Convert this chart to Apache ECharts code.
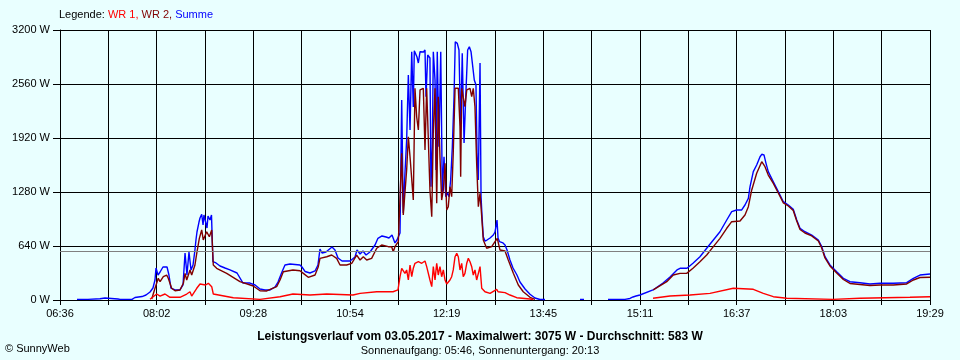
<!DOCTYPE html>
<html><head><meta charset="utf-8">
<script src="https://cdn.jsdelivr.net/npm/echarts@6/dist/echarts.min.js"></script>
<style>html,body{margin:0;padding:0;background:#E9FFFF}#c{width:960px;height:360px}</style>
</head><body><div id="c"></div>
<script>
// x tick labels (time of day)
const xTickLabels = ['06:36','08:02','09:28','10:54','12:19','13:45','15:11','16:37','18:03','19:29'];
// y axis
const yMin = 0, yMax = 3200, yStep = 640, yUnit = 'W';
const average = 583;
const legendLabel = 'Legende:';
const seriesNames = ['WR 1', 'WR 2', 'Summe'];
const titleText = 'Leistungsverlauf vom 03.05.2017 - Maximalwert: 3075 W - Durchschnitt: 583 W';
const subText = 'Sonnenaufgang: 05:46, Sonnenuntergang: 20:13';
const creditText = '\u00A9 SunnyWeb';

// [minute of day, watts]; null = no data
const wr1 = [[476.0,8],[481.9,71],[484.9,47],[489.3,71],[493.7,32],[502.6,32],[508.6,71],[511.5,98],[513.0,47],[517.5,139],[520.4,190],[525.3,178],[527.8,198],[530.8,158],[532.2,71],[550.0,27],[573.7,8],[591.5,39],[603.0,71],[618.1,59],[633.0,71],[656.3,59],[662.6,79],[677.4,98],[691.9,98],[696.3,119],[698.1,276],[699.6,376],[702.5,316],[704.0,356],[705.5,237],[707.0,415],[708.5,276],[709.9,376],[711.4,435],[714.4,454],[717.4,435],[720.3,462],[721.8,395],[723.2,415],[724.7,237],[726.3,158],[727.7,395],[729.2,237],[730.7,435],[732.1,296],[733.6,395],[735.1,276],[736.6,356],[738.1,237],[739.6,190],[741.0,198],[742.5,237],[744.0,276],[745.4,356],[747.0,513],[748.5,553],[749.9,513],[751.4,356],[752.9,435],[754.3,276],[755.8,316],[757.4,435],[758.8,494],[760.3,454],[761.8,395],[763.2,296],[764.7,356],[766.2,237],[767.7,316],[769.2,395],[770.7,139],[773.6,98],[778.1,79],[784.0,127],[785.2,98],[791.4,87],[795.8,59],[801.8,27],[813.6,12],[816.3,6],[817,null],[922.9,20],[938.0,47],[955.8,59],[973.5,79],[994.2,139],[1012.0,127],[1020.9,79],[1029.8,39],[1041.7,20],[1082.8,8],[1106.8,20],[1151.2,32],[1169.0,39]];

const wr2 = [[477.5,12],[480.4,139],[483.3,257],[484.9,217],[487.8,276],[490.8,296],[492.2,257],[495.2,139],[498.2,110],[502.6,119],[505.6,198],[507.1,316],[508.6,237],[511.5,356],[513.0,296],[515.9,415],[517.5,553],[519.8,731],[521.9,830],[523.3,711],[526.3,809],[528.7,750],[530.8,830],[532.2,415],[535.2,376],[544.1,316],[555.9,217],[567.7,166],[573.7,110],[579.7,107],[588.5,158],[591.5,237],[594.4,335],[595.9,356],[603.0,356],[609.2,347],[612.2,316],[616.6,269],[622.6,296],[625.5,395],[627.0,494],[633.0,513],[637.4,533],[641.8,494],[644.8,415],[650.7,415],[655.2,435],[659.6,533],[662.6,474],[665.5,513],[668.5,474],[672.9,494],[677.4,613],[681.8,652],[687.7,632],[690.7,632],[692.1,572],[693.6,632],[696.6,691],[698.1,711],[699.6,1739],[701.0,1007],[704.0,1541],[705.5,1935],[707.0,1698],[708.5,1698],[709.9,1185],[711.4,2509],[712.9,2172],[714.4,2015],[715.9,2489],[717.4,2509],[718.8,2509],[720.3,1778],[721.8,2509],[723.2,2509],[724.7,1304],[726.3,987],[727.7,2015],[729.2,2509],[730.7,1146],[732.1,2410],[733.6,1698],[735.1,1185],[736.6,1304],[738.1,1620],[739.6,1067],[741.0,1106],[742.5,1343],[744.0,1224],[745.4,1739],[747.0,2509],[748.5,2509],[749.9,2509],[751.4,2054],[752.0,1461],[752.9,2509],[754.3,2509],[755.8,2291],[757.4,2489],[758.8,2489],[760.3,2509],[761.8,2410],[763.2,2509],[764.7,2291],[766.2,1620],[767.7,1106],[769.2,1265],[770.7,987],[772.1,711],[775.1,613],[779.6,632],[782.5,691],[784.5,731],[786.9,593],[791.4,581],[794.3,474],[798.8,316],[803.2,178],[807.6,98],[813.6,32],[818.0,8],[819,null],[923.1,119],[935.1,217],[940.9,296],[946.9,316],[952.8,316],[958.4,376],[964.6,454],[970.6,533],[976.5,632],[982.4,731],[988.4,850],[992.8,928],[1000.2,936],[1004.6,1007],[1007.6,1106],[1010.6,1304],[1015.0,1502],[1019.5,1639],[1022.4,1580],[1025.3,1481],[1029.8,1381],[1034.2,1268],[1038.7,1150],[1043.1,1114],[1047.5,1061],[1050.6,936],[1053.5,836],[1057.9,794],[1063.9,759],[1069.8,699],[1072.8,616],[1075.7,498],[1080.1,403],[1086.1,320],[1092.0,243],[1097.9,196],[1106.8,184],[1115.7,172],[1124.6,178],[1136.4,178],[1148.3,190],[1154.2,237],[1160.1,267],[1169.0,269]];

const summe = [[411.1,8],[420.9,8],[421.8,15],[431.5,15],[432.4,24],[436.0,24],[436.9,12],[447.5,12],[449.3,8],[460.0,8],[462.6,30],[468.9,41],[472.4,59],[476.0,95],[478.6,142],[480.4,237],[481.3,379],[483.1,296],[484.9,332],[487.5,391],[491.1,391],[492.8,296],[494.6,142],[498.2,119],[502.6,119],[505.3,178],[507.1,557],[508.8,296],[510.6,569],[512.4,356],[514.2,415],[515.9,593],[516.8,711],[517.7,806],[519.5,924],[520.4,972],[521.9,1016],[523.1,889],[523.9,1007],[525.3,1016],[526.6,853],[527.5,996],[529.3,948],[530.6,1007],[531.9,454],[534.6,439],[538.2,403],[542.6,379],[547.0,356],[553.3,320],[558.6,201],[564.8,201],[569.3,178],[573.7,130],[578.1,119],[582.6,119],[587.0,154],[589.7,213],[593.2,332],[595.9,415],[600.4,427],[609.2,415],[611.0,391],[613.7,338],[618.1,320],[622.6,344],[625.2,415],[627.0,604],[628.8,557],[632.3,569],[637.7,628],[640.3,593],[643.0,498],[646.6,462],[653.7,462],[658.1,510],[659.9,593],[662.6,545],[665.2,581],[667.9,533],[671.4,569],[675.9,652],[678.5,731],[682.1,759],[685.7,747],[688.3,735],[691.0,770],[693.6,676],[695.4,711],[698.1,794],[699.6,2370],[701.0,1031],[702.5,1505],[704.0,1896],[705.5,2667],[707.0,2015],[708.5,2943],[709.9,2287],[710.8,2955],[712.0,2963],[713.2,2880],[714.4,2809],[715.9,2943],[717.4,2963],[719.0,2939],[720.3,2963],[721.2,2410],[722.7,2904],[724.7,2868],[725.6,1343],[726.8,1817],[727.7,2943],[729.2,2607],[730.1,1541],[731.2,2943],[732.7,1817],[734.3,2943],[735.7,1268],[737.2,1698],[738.7,1224],[740.1,1268],[741.6,1224],[743.1,1422],[744.6,1817],[746.1,2410],[747.2,3061],[749.0,3042],[750.5,2963],[752.0,2015],[753.4,2924],[755.0,1861],[756.5,2410],[758.2,2963],[759.7,3002],[761.2,2943],[762.7,2924],[764.1,2607],[765.6,2548],[766.5,1742],[767.7,1422],[769.2,2809],[770.1,1224],[771.0,987],[772.1,750],[773.6,699],[775.4,711],[778.1,735],[781.0,770],[782.5,806],[784.3,948],[785.2,735],[786.5,691],[789.6,676],[791.4,652],[793.2,593],[795.8,474],[798.5,379],[802.0,296],[804.7,213],[809.2,130],[813.6,68],[818.0,24],[822.5,6],[826.9,6],[827.5,null],[858.0,8],[861.6,8],[862,null],[882.9,8],[898.0,8],[902.4,18],[905.1,36],[907.8,47],[911.3,59],[922.9,119],[931.8,201],[938.0,273],[944.2,356],[946.9,376],[953.1,376],[958.4,435],[964.6,513],[970.6,613],[976.5,711],[982.4,809],[988.4,948],[992.8,1047],[997.2,1067],[1001.7,1067],[1004.6,1126],[1007.6,1205],[1009.1,1343],[1012.0,1521],[1015.0,1600],[1018.0,1698],[1019.5,1727],[1021.5,1719],[1023.3,1620],[1025.3,1521],[1029.8,1402],[1034.2,1284],[1038.7,1165],[1043.1,1126],[1047.5,1075],[1050.6,948],[1053.5,850],[1057.9,809],[1063.9,770],[1069.8,711],[1072.8,632],[1075.7,513],[1080.1,415],[1086.1,335],[1092.0,257],[1097.9,217],[1106.8,205],[1115.7,190],[1124.6,198],[1136.4,198],[1148.3,205],[1154.2,257],[1160.1,296],[1169.0,308]];

const FONT = '"Liberation Sans", Arial, sans-serif';
const toMin = s => { const p = s.split(':').map(Number); return p[0]*60 + p[1]; };
const xMin = toMin(xTickLabels[0]);
const xMax = toMin(xTickLabels[xTickLabels.length - 1]);
const nLab = xTickLabels.length - 1;
const step = (xMax - xMin) / (nLab * 2);
const tickVals = Array.from({length: nLab * 2 + 1}, (_, i) => xMin + i * step);
const labelVals = tickVals.filter((_, i) => i % 2 === 0);

const chart = echarts.init(document.getElementById('c'), null, {renderer: 'canvas'});
chart.setOption({
  backgroundColor: '#E9FFFF',
  animation: false,
  grid: {left: 60, right: 30, top: 30, bottom: 60, containLabel: false},
  title: [
    {text: '{k|' + legendLabel + ' }{a|' + seriesNames[0] + ',} {b|' + seriesNames[1] + ',} {c|' + seriesNames[2] + '}',
     left: 59, top: 9, padding: 0,
     textStyle: {fontSize: 11, fontWeight: 'normal', fontFamily: FONT,
       rich: {k: {color: '#000', fontSize: 11, fontFamily: FONT}, a: {color: '#FF0000', fontSize: 11, fontFamily: FONT},
              b: {color: '#800000', fontSize: 11, fontFamily: FONT}, c: {color: '#0000FF', fontSize: 11, fontFamily: FONT}}}},
    {text: titleText, left: 'center', top: 331, padding: 0,
     textStyle: {fontSize: 12, fontWeight: 'bold', color: '#000', fontFamily: FONT}},
    {text: subText, left: 'center', top: 345, padding: 0,
     textStyle: {fontSize: 11, fontWeight: 'normal', color: '#000', fontFamily: FONT}},
    {text: creditText, left: 5, top: 343, padding: 0,
     textStyle: {fontSize: 11, fontWeight: 'normal', color: '#000', fontFamily: FONT}}
  ],
  xAxis: {
    type: 'value', min: xMin, max: xMax,
    axisLine: {show: true, lineStyle: {color: '#000', width: 1}},
    axisTick: {show: true, customValues: tickVals, length: 5, lineStyle: {color: '#000'}},
    axisLabel: {customValues: labelVals, margin: 8, color: '#000', fontSize: 11, fontFamily: FONT,
      formatter: v => xTickLabels[Math.round((v - xMin) / (2 * step))]},
    splitLine: {show: true, lineStyle: {color: '#000', width: 1}}
  },
  yAxis: {
    type: 'value', min: yMin, max: yMax, interval: yStep,
    axisLine: {show: true, lineStyle: {color: '#000', width: 1}},
    axisTick: {show: true, length: 7, lineStyle: {color: '#000'}},
    axisLabel: {margin: 10, color: '#000', fontSize: 11, fontFamily: FONT, formatter: v => v + ' ' + yUnit},
    splitLine: {show: true, lineStyle: {color: '#000', width: 1}}
  },
  series: [
    {name: seriesNames[2], type: 'line', data: summe, showSymbol: false, connectNulls: false,
     lineStyle: {color: '#0000FF', width: 1.4}, itemStyle: {color: '#0000FF'}, z: 2,
     markLine: {silent: true, symbol: 'none', label: {show: false}, animation: false,
       lineStyle: {color: '#808080', type: 'solid', width: 1}, data: [{yAxis: average}]}},
    {name: seriesNames[1], type: 'line', data: wr2, showSymbol: false, connectNulls: false,
     lineStyle: {color: '#800000', width: 1.4}, itemStyle: {color: '#800000'}, z: 3},
    {name: seriesNames[0], type: 'line', data: wr1, showSymbol: false, connectNulls: false,
     lineStyle: {color: '#FF0000', width: 1.4}, itemStyle: {color: '#FF0000'}, z: 4}
  ]
});
</script></body></html>
